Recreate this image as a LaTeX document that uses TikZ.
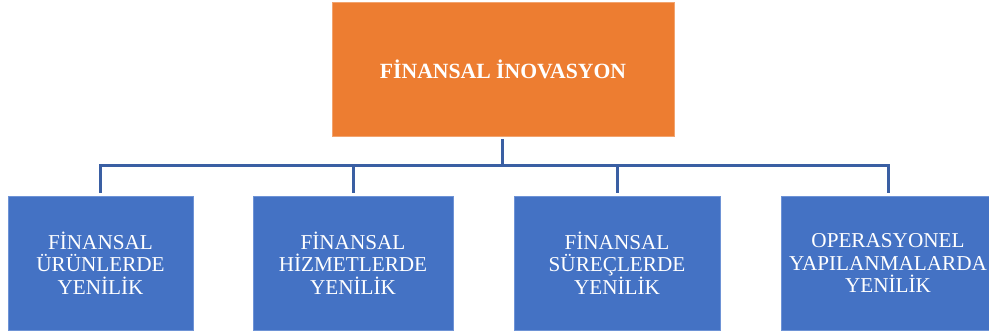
\documentclass[tikz,border=0pt]{standalone}
\usepackage{fontspec}
\setmainfont{Liberation Serif}
\definecolor{orng}{HTML}{ED7D31}
\definecolor{bluebox}{HTML}{4472C4}
\definecolor{bluebord}{HTML}{6E93D6}
\definecolor{lineblue}{HTML}{3A5FA3}
\begin{document}
\begin{tikzpicture}[x=1pt,y=-1pt,
  topbox/.style={fill=orng,draw=orng!70!white,line width=0.8pt,minimum width=342pt,minimum height=134pt,
    text=white,font=\fontsize{21.7}{23}\selectfont\bfseries,inner sep=0pt},
  subbox/.style={fill=bluebox,draw=bluebord,line width=0.8pt,minimum height=134pt,
    text=white,font=\fontsize{21.2}{22.3}\selectfont,align=center,inner sep=0pt},
  conn/.style={draw=lineblue,line width=3pt}]
\useasboundingbox (0,0) rectangle (989,332);
\clip (0,0) rectangle (989,332);
\node[topbox] (top) at (503,69) {FİNANSAL İNOVASYON};
\node[subbox,minimum width=185pt] (n1) at (100.5,263) {FİNANSAL\\ÜRÜNLERDE\\YENİLİK};
\node[subbox,minimum width=200pt] (n2) at (353,263) {FİNANSAL\\HİZMETLERDE\\YENİLİK};
\node[subbox,minimum width=206pt] (n3) at (617,263) {FİNANSAL\\SÜREÇLERDE\\YENİLİK};
\node[subbox,minimum width=214pt] (n4) at (888,263) {OPERASYONEL\\YAPILANMALARDA\\YENİLİK};
\coordinate (bus) at (502,165);
\draw[conn,shorten <=3pt] (top.south -| bus) -- (bus);
\draw[conn,shorten <=3pt] (n1.north) |- (bus);
\draw[conn,shorten <=3pt] (n4.north) |- (bus);
\draw[conn,shorten <=3pt] (n2.north) -- (n2.north |- bus);
\draw[conn,shorten <=3pt] (n3.north) -- (n3.north |- bus);
\end{tikzpicture}
\end{document}
